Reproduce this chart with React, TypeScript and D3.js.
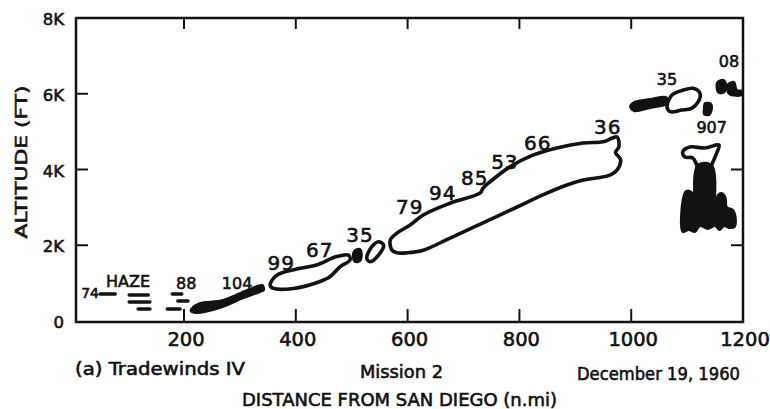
import React from "react";
import * as d3 from "d3";

type P = [number, number]; // [distance n.mi, altitude ft]

// ---- axes ----
const xTicks = [200, 400, 600, 800, 1000, 1200];
const xInnerTicks = [200, 400, 600, 800, 1000];
const yTicks = [0, 2000, 4000, 6000, 8000];
const yTickLabels = ["0", "2K", "4K", "6K", "8K"];
const yInnerTicks = [2000, 4000, 6000];

// ---- outlined clouds ----
const mainCloud: P[] = [
  [604, 2530], [628, 2800], [676, 3110], [730, 3380], [735, 3510], [747, 3670],
  [783, 4070], [824, 4380], [867, 4570], [914, 4700], [950, 4730], [966, 4830],
  [975, 4860], [978, 4600], [972, 4450], [981, 4260], [975, 3990], [962, 3850],
  [914, 3720], [885, 3590], [842, 3330], [796, 3010], [735, 2590], [676, 2190],
  [628, 1870], [599, 1800], [581, 1800], [572, 1870], [569, 2140], [581, 2320],
];
const cloud9967: P[] = [
  [354, 950], [366, 1210], [408, 1390], [437, 1480], [473, 1700], [494, 1740],
  [497, 1610], [479, 1430], [461, 1170], [437, 1010], [396, 860], [360, 860],
];
const tinyCloud: P[] = [
  [527, 1655], [536, 1962], [548, 2094], [557, 2006], [548, 1742], [533, 1566],
];
const cloud35: P[] = [
  [1064, 5658], [1073, 5966], [1093, 6098], [1111, 6143], [1123, 6011],
  [1120, 5790], [1108, 5615], [1090, 5570], [1070, 5526],
];
const towerTop: P[] = [
  [1092, 4462], [1105, 4594], [1132, 4567], [1157, 4646], [1153, 4435],
  [1142, 4039], [1139, 3722], [1123, 3722], [1119, 4039], [1110, 4303], [1096, 4330],
];

// ---- solid (dark) echoes ----
const streakLeft: P[] = [
  [216, 370], [229, 475], [270, 554], [313, 818], [340, 950], [343, 818],
  [336, 766], [306, 607], [264, 343], [220, 211], [212, 264],
];
const blob35: P[] = [
  [502, 1716], [506, 1874], [515, 1901], [518, 1769], [515, 1584], [506, 1558],
];
const streakRight: P[] = [
  [1005, 5782], [1034, 5861], [1062, 5914], [1066, 5820], [1064, 5729],
  [1034, 5623], [1005, 5544], [998, 5660],
];
const blob08a: P[] = [
  [1154, 6310], [1166, 6362], [1170, 6151], [1164, 6019], [1155, 6046],
];
const blob08b: P[] = [
  [1172, 6230], [1184, 6310], [1189, 6098], [1198, 6072], [1198, 5966], [1175, 5993],
];
const dot907: P[] = [
  [1132, 5755], [1143, 5729], [1144, 5570], [1139, 5438], [1130, 5465], [1130, 5597],
];
const towerStem: P[] = [[1119, 4118], [1144, 4118], [1142, 2798], [1121, 2798]];
const towerBase: P[] = [
  [1092, 2350], [1092, 3194], [1098, 3432], [1108, 3406], [1114, 3194], [1117, 2930],
  [1123, 3062], [1132, 2930], [1137, 3300], [1144, 3326], [1150, 3062], [1155, 3326],
  [1162, 3379], [1169, 3247], [1171, 3010], [1182, 2930], [1187, 2719], [1185, 2482],
  [1175, 2455], [1166, 2508], [1158, 2402], [1150, 2508], [1137, 2429], [1123, 2508],
  [1114, 2350], [1103, 2402],
];

// ---- haze dashes ----
const hazeDashes: [P, P][] = [
  [[50, 713], [77, 713]],
  [[102, 686], [136, 686]],
  [[102, 502], [139, 502]],
  [[118, 317], [139, 317]],
  [[179, 713], [196, 713]],
  [[189, 528], [207, 528]],
  [[170, 317], [193, 317]],
];

// ---- labels: [text, distance, altitude] ----
const smallLabels: [string, number, number][] = [
  ["74", 32, 740],
  ["HAZE", 100, 1056],
  ["88", 204, 977],
  ["104", 295, 977],
  ["35", 1064, 6389],
  ["08", 1175, 6864],
  ["907", 1144, 5122],
];
const largeLabels: [string, number, number][] = [
  ["99", 374, 1531],
  ["67", 443, 1874],
  ["35", 515, 2270],
  ["79", 604, 3010],
  ["94", 663, 3379],
  ["85", 720, 3775],
  ["53", 774, 4198],
  ["66", 833, 4699],
  ["36", 958, 5122],
];

const W = 770;
const H = 409;
const INK = "#121212";
const FONT = "'DejaVu Sans', 'Liberation Sans', sans-serif";

export default function App() {
  const x = d3.scaleLinear().domain([0, 1200]).range([72.2, 743]);
  const y = d3.scaleLinear().domain([0, 8000]).range([321, 18]);
  const frame = { l: 76, t: 18, r: 743, b: 322 };

  const closed = d3
    .line<P>()
    .x((d) => x(d[0]))
    .y((d) => y(d[1]))
    .curve(d3.curveCatmullRomClosed.alpha(0.5));

  const outlined = [mainCloud, cloud9967, tinyCloud, cloud35, towerTop];
  const solid = [streakLeft, blob35, streakRight, blob08a, blob08b, dot907, towerStem, towerBase];

  const textStyle = { fill: INK, stroke: INK, strokeWidth: 0.6, fontFamily: FONT } as const;

  return (
    <svg
      width={W}
      height={H}
      viewBox={`0 0 ${W} ${H}`}
      style={{ position: "fixed", left: 0, top: 0, background: "#fff" }}
    >
      <rect x={0} y={0} width={W} height={H} fill="#fff" />
      {/* frame */}
      <rect
        x={frame.l}
        y={frame.t}
        width={frame.r - frame.l}
        height={frame.b - frame.t}
        fill="none"
        stroke={INK}
        strokeWidth={2.5}
      />
      {/* ticks */}
      {xInnerTicks.map((v) => (
        <g key={"xt" + v}>
          <line x1={x(v)} x2={x(v)} y1={frame.b} y2={frame.b - 13} stroke={INK} strokeWidth={2} />
          <line x1={x(v)} x2={x(v)} y1={frame.t} y2={frame.t + 11} stroke={INK} strokeWidth={2} />
        </g>
      ))}
      {yInnerTicks.map((v) => (
        <g key={"yt" + v}>
          <line x1={frame.l} x2={frame.l + 12} y1={y(v)} y2={y(v)} stroke={INK} strokeWidth={2} />
          <line x1={frame.r} x2={frame.r - 12} y1={y(v)} y2={y(v)} stroke={INK} strokeWidth={2} />
        </g>
      ))}
      {/* tick labels */}
      {xTicks.map((v) => (
        <text
          key={"xl" + v}
          x={x(v) + 2}
          y={339}
          textAnchor="middle"
          dominantBaseline="central"
          fontSize={19.5}
          {...textStyle}
        >
          {v}
        </text>
      ))}
      {yTicks.map((v, i) => (
        <text
          key={"yl" + v}
          x={64}
          y={y(v) + 1.5}
          textAnchor="end"
          dominantBaseline="central"
          fontSize={16.5}
          {...textStyle}
        >
          {yTickLabels[i]}
        </text>
      ))}

      {/* echoes */}
      {outlined.map((pts, i) => (
        <path
          key={"o" + i}
          d={closed(pts) || ""}
          fill="none"
          stroke={INK}
          strokeWidth={3.6}
          strokeLinejoin="round"
        />
      ))}
      {solid.map((pts, i) => (
        <path
          key={"s" + i}
          d={closed(pts) || ""}
          fill={INK}
          stroke={INK}
          strokeWidth={2}
          strokeLinejoin="round"
        />
      ))}
      {hazeDashes.map(([a, b], i) => (
        <line
          key={"h" + i}
          x1={x(a[0])}
          y1={y(a[1])}
          x2={x(b[0])}
          y2={y(b[1])}
          stroke={INK}
          strokeWidth={3.5}
          strokeLinecap="round"
        />
      ))}

      {/* annotations */}
      {smallLabels.map(([t, d, a], i) => (
        <text
          key={"sl" + i}
          x={x(d)}
          y={y(a)}
          textAnchor="middle"
          dominantBaseline="central"
          fontSize={t === "74" ? 14 : 16}
          {...textStyle}
        >
          {t}
        </text>
      ))}
      {largeLabels.map(([t, d, a], i) => (
        <text
          key={"ll" + i}
          x={x(d)}
          y={y(a)}
          textAnchor="middle"
          dominantBaseline="central"
          fontSize={20}
          letterSpacing={1}
          {...textStyle}
        >
          {t}
        </text>
      ))}

      {/* captions */}
      <text x={75} y={369} dominantBaseline="central" fontSize={17.5} textLength={170} lengthAdjust="spacingAndGlyphs" {...textStyle}>
        (a)  Tradewinds  IV
      </text>
      <text x={360} y={372} dominantBaseline="central" fontSize={17.5} textLength={83} lengthAdjust="spacingAndGlyphs" {...textStyle}>
        Mission 2
      </text>
      <text x={577} y={374} dominantBaseline="central" fontSize={17.5} textLength={163} lengthAdjust="spacingAndGlyphs" {...textStyle}>
        December 19, 1960
      </text>
      <text x={242} y={400} dominantBaseline="central" fontSize={17.5} textLength={315} lengthAdjust="spacingAndGlyphs" {...textStyle}>
        DISTANCE FROM SAN DIEGO (n.mi)
      </text>
      <text
        transform="translate(21,162) rotate(-90)"
        textAnchor="middle"
        dominantBaseline="central"
        fontSize={16.5}
        textLength={153}
        lengthAdjust="spacingAndGlyphs"
        {...textStyle}
      >
        ALTITUDE (FT)
      </text>
    </svg>
  );
}
